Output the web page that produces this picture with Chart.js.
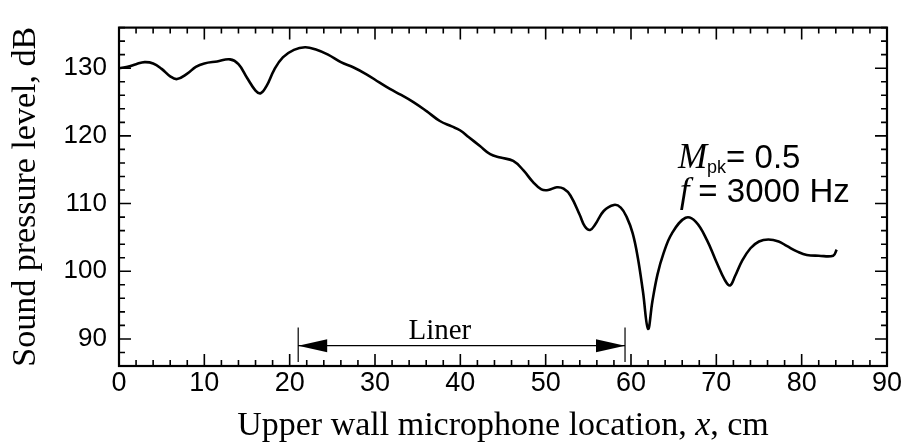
<!DOCTYPE html>
<html>
<head>
<meta charset="utf-8">
<script src="https://cdn.jsdelivr.net/npm/chart.js@4.4.0/dist/chart.umd.min.js"></script>
<style>
  html, body { margin: 0; padding: 0; background: #fff; }
</style>
</head>
<body>
<canvas id="splChart" width="904" height="448"></canvas>
<script>
// Posição do microfone na parede superior (cm)
const positionCm = [
  0, 1, 2, 3, 4, 5, 6, 6.8, 8, 9, 10, 11.5, 13, 14, 15, 16, 16.6, 17.3, 18.2,
  19.2, 20.5, 21.8, 23, 24.5, 26, 27.5, 29, 30.5, 31.8, 33, 34.5, 36, 37.6, 39,
  40, 41, 42.3, 43.5, 44.7, 46.2, 47.4, 48.5, 49.5, 50.3, 51.3, 52.1, 52.9, 54,
  54.6, 55.2, 55.8, 56.8, 58, 58.8, 59.5, 60.2, 60.8, 61.4, 62, 62.5, 63.1,
  63.8, 64.8, 66.4, 67.6, 68.9, 70, 71, 71.6, 72.2, 73, 74, 75, 76.1, 77.3,
  78.3, 79.5, 80.6, 82, 83.7, 84.1,
];
// Nível de pressão sonora medido (dB)
const splDb = [
  130.0, 130.2, 130.6, 130.9, 130.7, 129.9, 128.8, 128.4, 129.2, 130.2, 130.7,
  131.0, 131.3, 130.6, 128.6, 126.7, 126.3, 127.4, 129.8, 131.6, 132.7, 133.1,
  132.8, 132.0, 130.9, 130.1, 129.1, 127.9, 126.9, 126.1, 125.0, 123.7, 122.2,
  121.4, 120.8, 119.8, 118.5, 117.3, 116.8, 116.3, 114.9, 113.2, 112.1, 112.0,
  112.4, 112.2, 111.2, 108.3, 106.6, 106.1, 106.9, 108.9, 109.8, 109.4, 108.0,
  105.6, 102.0, 97.0, 91.5, 95.5, 99.5, 102.6, 105.6, 107.9, 107.3, 104.6,
  101.4, 98.7, 97.9, 99.3, 101.5, 103.4, 104.4, 104.7, 104.4, 103.7, 102.9,
  102.4, 102.3, 102.3, 103.2,
];

const xTicks = [0, 10, 20, 30, 40, 50, 60, 70, 80, 90];
const yTicks = [90, 100, 110, 120, 130];

// Trecho do liner (cm) e altura da seta (dB)
const linerStartCm = 21.0;
const linerEndCm = 59.3;
const linerArrowDb = 89.0;
const linerBarDb = [86.6, 91.7];

const serif = "'Liberation Serif', 'Times New Roman', serif";
const sans = "'Liberation Sans', Arial, sans-serif";

// --- Moldura com marcas internas nos quatro lados ---
const framePlugin = {
  id: "moldura",
  afterDraw(chart) {
    const { ctx, chartArea: a, scales } = chart;
    const x = scales.x;
    const y = scales.y;
    ctx.save();
    ctx.strokeStyle = "#000";
    ctx.lineWidth = 1.6;
    ctx.beginPath();
    for (let v = 0; v <= 90; v += 2) {
      const px = x.getPixelForValue(v);
      const len = v % 10 === 0 ? 12 : 6;
      ctx.moveTo(px, a.bottom);
      ctx.lineTo(px, a.bottom - len);
      ctx.moveTo(px, a.top);
      ctx.lineTo(px, a.top + len);
    }
    for (let v = 86; v <= 136; v += 2) {
      const py = y.getPixelForValue(v);
      const len = v % 10 === 0 ? 12 : 6;
      ctx.moveTo(a.left, py);
      ctx.lineTo(a.left + len, py);
      ctx.moveTo(a.right, py);
      ctx.lineTo(a.right - len, py);
    }
    ctx.stroke();
    ctx.lineWidth = 2.2;
    ctx.strokeRect(a.left, a.top, a.right - a.left, a.bottom - a.top);
    ctx.restore();
  },
};

// --- Seta do liner e anotações de texto ---
const notesPlugin = {
  id: "anotacoes",
  afterDatasetsDraw(chart) {
    const { ctx, chartArea: a, scales } = chart;
    const x = scales.x;
    const y = scales.y;
    const x1 = x.getPixelForValue(linerStartCm);
    const x2 = x.getPixelForValue(linerEndCm);
    const ya = y.getPixelForValue(linerArrowDb);

    ctx.save();
    ctx.strokeStyle = "#000";
    ctx.fillStyle = "#000";
    ctx.lineWidth = 1.2;
    ctx.beginPath();
    ctx.moveTo(x1, y.getPixelForValue(linerBarDb[1]));
    ctx.lineTo(x1, y.getPixelForValue(linerBarDb[0]));
    ctx.moveTo(x2, y.getPixelForValue(linerBarDb[1]));
    ctx.lineTo(x2, y.getPixelForValue(linerBarDb[0]));
    ctx.moveTo(x1, ya);
    ctx.lineTo(x2, ya);
    ctx.stroke();

    const head = (tip, dir) => {
      ctx.beginPath();
      ctx.moveTo(tip, ya);
      ctx.lineTo(tip + dir * 29, ya - 6.5);
      ctx.lineTo(tip + dir * 29, ya + 6.5);
      ctx.closePath();
      ctx.fill();
    };
    head(x1, 1);
    head(x2, -1);

    ctx.font = `29px ${serif}`;
    ctx.textAlign = "center";
    ctx.textBaseline = "alphabetic";
    ctx.fillText("Liner", x.getPixelForValue(37.6), ya - 7);

    // M_pk = 0.5 / f = 3000 Hz
    ctx.textAlign = "left";
    let px = x.getPixelForValue(65.5);
    let by = y.getPixelForValue(115.3);
    ctx.font = `italic 35px ${serif}`;
    ctx.fillText("M", px, by);
    px += ctx.measureText("M").width;
    ctx.font = `18px ${sans}`;
    ctx.fillText("pk", px, by + 5);
    px += ctx.measureText("pk").width;
    ctx.font = `33px ${sans}`;
    ctx.fillText("= 0.5", px, by);

    px = x.getPixelForValue(65.7);
    by = y.getPixelForValue(110.3);
    ctx.font = `italic 35px ${serif}`;
    ctx.fillText("f", px, by);
    px += ctx.measureText("f").width + 9;
    ctx.font = `33px ${sans}`;
    ctx.fillText("= 3000 Hz", px, by);

    // Título do eixo x com o x em itálico
    const parts = [
      ["Upper wall microphone location, ", `34px ${serif}`],
      ["x", `italic 34px ${serif}`],
      [", cm", `34px ${serif}`],
    ];
    let total = 0;
    parts.forEach(([t, f]) => {
      ctx.font = f;
      total += ctx.measureText(t).width;
    });
    px = (a.left + a.right) / 2 - total / 2;
    parts.forEach(([t, f]) => {
      ctx.font = f;
      ctx.fillText(t, px, 435);
      px += ctx.measureText(t).width;
    });
    ctx.restore();
  },
};

const ctx = document.getElementById("splChart").getContext("2d");
new Chart(ctx, {
  type: "line",
  data: {
    datasets: [
      {
        data: positionCm.map((v, i) => ({ x: v, y: splDb[i] })),
        borderColor: "#000",
        borderWidth: 2.6,
        pointRadius: 0,
        tension: 0.4,
        fill: false,
      },
    ],
  },
  options: {
    responsive: false,
    animation: false,
    layout: { padding: { top: 12, right: 17, left: 0, bottom: 0 } },
    plugins: { legend: { display: false }, tooltip: { enabled: false } },
    scales: {
      x: {
        type: "linear",
        min: 0,
        max: 90,
        afterBuildTicks: (s) => {
          s.ticks = xTicks.map((v) => ({ value: v }));
        },
        afterFit: (s) => {
          s.height = 82;
        },
        grid: { display: false, drawTicks: false },
        border: { display: false },
        ticks: {
          color: "#000",
          font: { family: sans, size: 27 },
          padding: 1,
          maxRotation: 0,
          autoSkip: false,
        },
      },
      y: {
        min: 86,
        max: 136,
        afterBuildTicks: (s) => {
          s.ticks = yTicks.map((v) => ({ value: v }));
        },
        afterFit: (s) => {
          s.width = 119;
        },
        grid: { display: false, drawTicks: false },
        border: { display: false },
        title: {
          display: true,
          text: "Sound pressure level, dB",
          color: "#000",
          font: { family: serif, size: 34 },
          padding: { top: 6, bottom: 0 },
        },
        ticks: {
          color: "#000",
          font: { family: sans, size: 26 },
          padding: 12,
          autoSkip: false,
        },
      },
    },
  },
  plugins: [framePlugin, notesPlugin],
});
</script>
</body>
</html>
